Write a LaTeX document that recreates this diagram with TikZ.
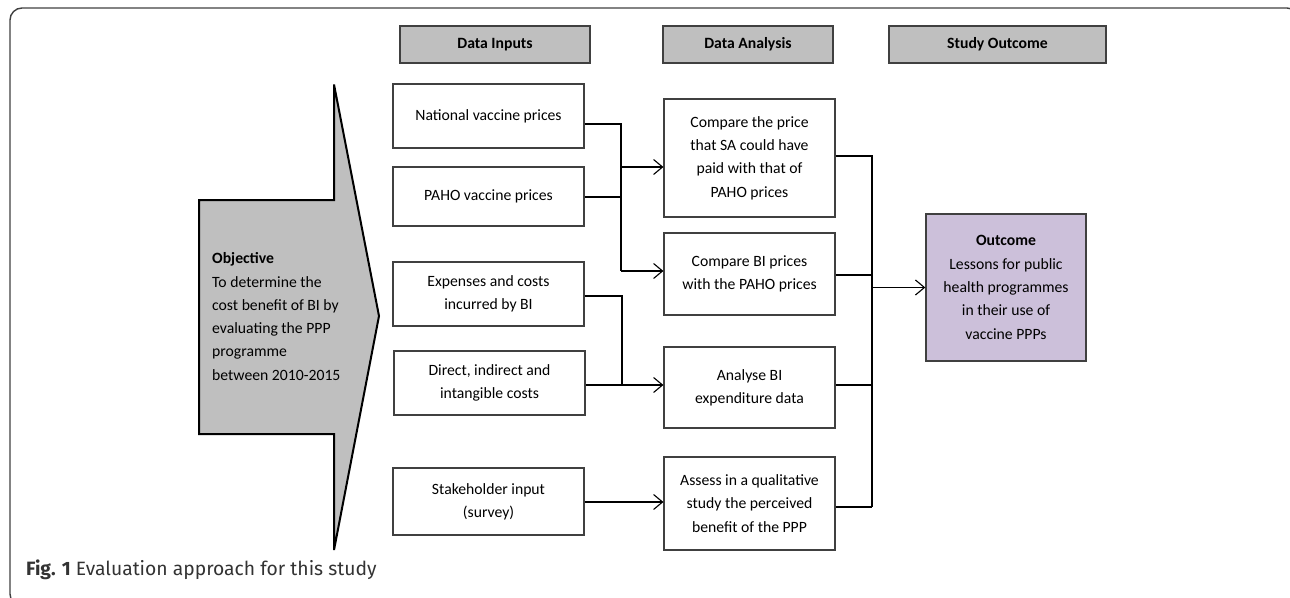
\documentclass[tikz,border=0pt]{standalone}
\usepackage{fontspec}
\setmainfont{Carlito}
\newfontfamily\capfont{Fira Sans}
\usetikzlibrary{arrows.meta}
\definecolor{hdrgray}{HTML}{BFBFBF}
\definecolor{edgegray}{HTML}{404040}
\definecolor{lavender}{HTML}{CCC0DA}
\definecolor{captxt}{HTML}{333333}
\tikzset{
  txt/.style={font=\fontsize{15.7}{23.3}\selectfont},
  hdr/.style={txt, draw=edgegray, line width=1.4pt, fill=hdrgray, minimum height=37pt, inner sep=0pt, font=\fontsize{15.7}{23.3}\selectfont\bfseries},
  inbox/.style={txt, draw=edgegray, line width=1.2pt, minimum width=191pt, align=center, inner sep=0pt},
  anbox/.style={txt, draw=edgegray, line width=1.2pt, minimum width=171pt, align=center, inner sep=0pt},
  link/.style={line width=1.1pt, black},
  arr/.style={link, -{Straight Barb[length=9pt,width=15pt,line width=1.1pt]}},
}
\begin{document}
\begin{tikzpicture}[x=1pt,y=-1pt]
\useasboundingbox (0,0) rectangle (1290,597);
% outer frame, running past the page on the right and at the bottom
\draw[edgegray, line width=1.4pt, rounded corners=12pt] (10,8) rectangle (1299,606);

% objective arrow
\draw[black, line width=2pt, fill=hdrgray, line join=miter]
  (199,200) -- (334,200) -- (334,84.5) -- (379,316) -- (334,550) -- (334,434) -- (199,434) -- cycle;
\node[txt, anchor=west, align=left, inner sep=0pt] (obj) at (212,316.5)
  {\textbf{Objective}\\To determine the\\cost benefit of BI by\\evaluating the PPP\\programme\\between 2010-2015};

% column headers
\node[hdr, minimum width=190pt] (hin)  at (495,44.5)   {Data Inputs};
\node[hdr, minimum width=170pt] (han)  at (748,44.5)   {Data Analysis};
\node[hdr, minimum width=217pt] (hout) at (997.5,44.5) {Study Outcome};

% data inputs
\node[inbox, minimum height=64pt] (nat)  at (488.5,116)   {National vaccine prices};
\node[inbox, minimum height=59pt] (paho) at (488.5,196.5) {PAHO vaccine prices};
\node[inbox, minimum height=64pt] (exp)  at (488.5,294)   {Expenses and costs\\incurred by BI};
\node[inbox, minimum height=64pt] (dir)  at (489.5,383)   {Direct, indirect and\\intangible costs};
\node[inbox, minimum height=67pt] (stk)  at (488.5,501.5) {Stakeholder input\\(survey)};

% data analysis
\node[anbox, minimum height=118pt] (cmpa) at (749.5,158)   {Compare the price\\that SA could have\\paid with that of\\PAHO prices};
\node[anbox, minimum height=82pt]  (cmpb) at (749.5,274)   {Compare BI prices\\with the PAHO prices};
\node[anbox, minimum height=81pt]  (ana)  at (749.5,387.5) {Analyse BI\\expenditure data};
\node[anbox, minimum height=93pt]  (ass)  at (749.5,503.5) {Assess in a qualitative\\study the perceived\\benefit of the PPP};

% outcome
\node[txt, draw=edgegray, line width=1.4pt, fill=lavender, minimum width=160pt, minimum height=147pt, align=center, inner sep=0pt] (out) at (1006,287.5)
  {\textbf{Outcome}\\Lessons for public\\health programmes\\in their use of\\vaccine PPPs};

% junction points
\coordinate (pa) at (621,124);
\coordinate (pb) at (621,197);
\coordinate (pc) at (621,167);
\coordinate (pd) at (621,271);
\coordinate (qa) at (622,296);
\coordinate (qb) at (622,385);
\coordinate (ra) at (872,156);
\coordinate (rb) at (872,275);
\coordinate (rc) at (872,385);
\coordinate (rd) at (872,507);
\coordinate (re) at (872,287.5);

% price comparisons
\draw[link] (nat.east |- pa) -- (pa) -- (pd);
\draw[link] (paho.east |- pb) -- (pb);
\draw[arr] (pc) -- (cmpa.west |- pc);
\draw[arr] (pd) -- (cmpb.west |- pd);

% expenditure analysis
\draw[link] (exp.east |- qa) -- (qa) -- (qb);
\draw[arr] (dir.east |- qb) -- (ana.west |- qb);

% stakeholder survey
\draw[arr] (stk.east |- 0,502) -- (ass.west |- 0,502);

% into the outcome
\draw[link] (cmpa.east |- ra) -- (ra) -- (rd);
\draw[link] (cmpb.east |- rb) -- (rb);
\draw[link] (ana.east |- rc) -- (rc);
\draw[link] (ass.east |- rd) -- (rd);
\draw[arr] (re) -- (out.west);

% caption
\node[anchor=base west, inner sep=0pt, text=captxt, font=\capfont\fontsize{19.3}{22}\selectfont] (cap) at (26,575)
  {\textbf{Fig. 1} Evaluation approach for this study};
\end{tikzpicture}
\end{document}
